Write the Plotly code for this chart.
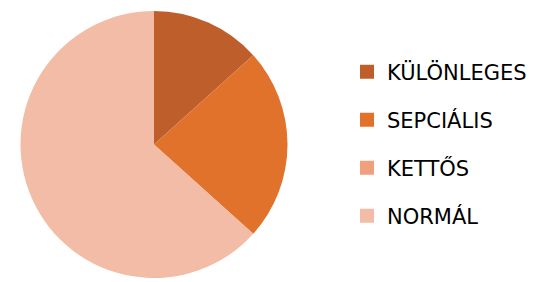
import plotly.graph_objects as go

labels = ["KÜLÖNLEGES", "SEPCIÁLIS", "KETTŐS", "NORMÁL"]
values = [4, 7, 0, 19]
colors = ["#BE5F2B", "#E0722B", "#F0A07E", "#F2BCA6"]

W, H = 537, 282

fig = go.Figure()
fig.add_trace(go.Pie(
    labels=labels,
    values=values,
    sort=False,
    direction="clockwise",
    rotation=0,
    marker=dict(colors=colors, line=dict(width=0)),
    textinfo="none",
    hoverinfo="label+value+percent",
    showlegend=False,
    domain=dict(x=[20.5 / W, 287.5 / W], y=[1 - 278 / H, 1 - 11 / H]),
))

# legend entries, one per category
for i, (lab, col) in enumerate(zip(labels, colors)):
    fig.add_trace(go.Scatter(
        x=[None], y=[None], mode="markers", name=lab,
        marker=dict(symbol="square", size=14, color=col, line=dict(width=0)),
        legendgroup=f"g{i}", showlegend=True, hoverinfo="skip",
    ))

fig.update_layout(
    width=W, height=H,
    margin=dict(l=0, r=0, t=0, b=0),
    paper_bgcolor="white", plot_bgcolor="white",
    xaxis=dict(visible=False), yaxis=dict(visible=False),
    legend=dict(
        x=(347) / W, y=1 - 51.5 / H, xanchor="left", yanchor="top",
        font=dict(family="DejaVu Sans", size=21, color="#000000"),
        tracegroupgap=17.7, bgcolor="rgba(0,0,0,0)", borderwidth=0,
        traceorder="grouped",
    ),
)

fig.write_html("out.html", config={"displayModeBar": False},
               post_script="document.body.style.margin='0';document.body.style.padding='0';")
